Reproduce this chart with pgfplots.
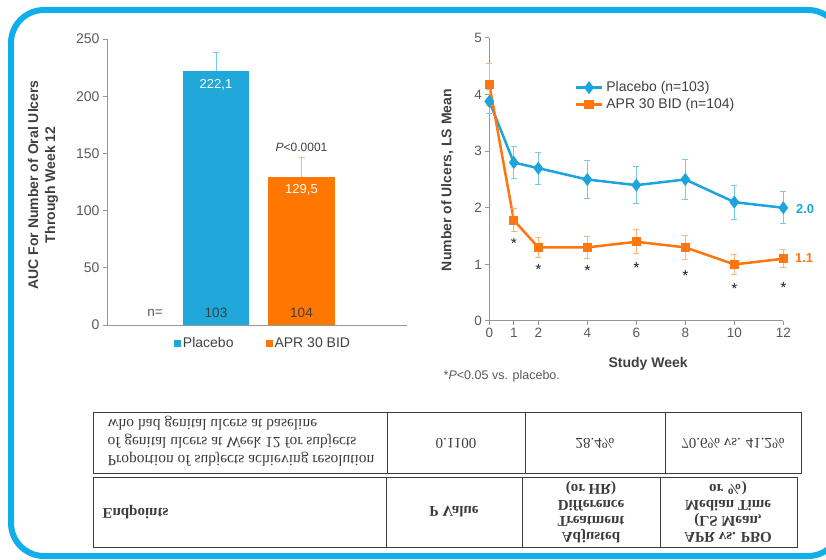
\documentclass[border=0pt]{standalone}
\usepackage{pgfplots}
\pgfplotsset{compat=1.18}
\usepackage{fontspec}
\setmainfont{Liberation Sans}
\newfontfamily\tabfont{Liberation Serif}
\definecolor{pblue}{RGB}{31,168,217}
\definecolor{lblue}{RGB}{28,164,220}
\definecolor{eblue}{RGB}{120,200,232}
\definecolor{porange}{RGB}{255,118,0}
\definecolor{lorange}{RGB}{255,117,15}
\definecolor{eorange}{RGB}{255,178,125}
\definecolor{bordercol}{RGB}{18,174,236}
\definecolor{tickgray}{RGB}{89,89,89}
\definecolor{axisgray}{RGB}{150,150,150}
\definecolor{labelgray}{RGB}{64,64,64}
\definecolor{tabgray}{RGB}{60,60,60}
\begin{document}
\begin{tikzpicture}[x=1pt,y=1pt]
% ---------------- bar chart ----------------
\begin{axis}[
  at={(107pt,234pt)}, anchor=south west, scale only axis,
  width=300pt, height=286pt,
  xmin=0, xmax=300, ymin=0, ymax=250,
  axis x line=bottom, axis y line=left,
  axis line style={draw=axisgray, line width=0.8pt, -},
  xtick=\empty, ytick={0,50,...,250},
  tick style={draw=axisgray, line width=0.8pt}, tick align=outside, major tick length=4pt,
  /pgf/number format/assume math mode=true,
  yticklabel style={font=\fontsize{14}{16}\selectfont, text=tickgray},
  ylabel={AUC For Number of Oral Ulcers\\Through Week 12},
  ylabel style={align=center, font=\bfseries\fontsize{14}{17}\selectfont, text=labelgray,
    at={(axis description cs:-0.213,0.49)}, anchor=center},
  clip=false,
  legend columns=2,
  legend style={at={(axis description cs:0.52,-0.063)}, anchor=center, draw=none, fill=none,
    font=\fontsize{14}{16}\selectfont, text=labelgray,
    /tikz/every even column/.append style={column sep=30pt}},
  legend image code/.code={\fill[#1,draw=none] (0pt,-3.5pt) rectangle (7pt,3.5pt);},
]
\addplot[ybar, bar width=66, bar shift=0pt, fill=pblue, draw=none,
  error bars/.cd, y dir=plus, y explicit, error mark=-,
  error bar style={color=eblue, line width=1pt},
  error mark options={rotate=90, color=eblue, line width=1pt, mark size=3pt}]
  coordinates {(109,222.1) +- (0,16.5)};
\addlegendentry{Placebo}
\addplot[ybar, bar width=67, bar shift=0pt, fill=porange, draw=none,
  error bars/.cd, y dir=plus, y explicit, error mark=-,
  error bar style={color=eorange, line width=1pt},
  error mark options={rotate=90, color=eorange, line width=1pt, mark size=3pt}]
  coordinates {(194.5,129.5) +- (0,16.5)};
\addlegendentry{APR 30 BID}
\node[white, font=\fontsize{13}{15}\selectfont] at (axis cs:109,210) {222,1};
\node[white, font=\fontsize{13}{15}\selectfont] at (axis cs:194.5,118) {129,5};
\node[labelgray, font=\fontsize{13.5}{15}\selectfont] at (axis cs:109,10.5) {103};
\node[labelgray, font=\fontsize{13.5}{15}\selectfont] at (axis cs:194.5,10.5) {104};
\node[tickgray, font=\fontsize{13.5}{15}\selectfont] at (axis cs:48,10.5) {n=};
\node[labelgray, font=\fontsize{12}{14}\selectfont] at (axis cs:194.5,155) {\textit{P}<0.0001};
\end{axis}

% ---------------- line chart ----------------
\begin{axis}[
  at={(489.3pt,238pt)}, anchor=south west, scale only axis,
  width=294pt, height=283pt,
  xmin=0, xmax=12, ymin=0, ymax=5,
  axis x line=bottom, axis y line=left,
  axis line style={draw=axisgray, line width=1pt, -},
  xtick={0,1,2,4,6,8,10,12}, ytick={0,1,...,5},
  tick style={draw=axisgray, line width=1pt}, tick align=outside, major tick length=4pt,
  /pgf/number format/assume math mode=true,
  ticklabel style={font=\fontsize{13.5}{16}\selectfont, text=tickgray},
  ylabel={Number of Ulcers, LS Mean},
  ylabel style={font=\bfseries\fontsize{14}{17}\selectfont, text=labelgray,
    at={(axis description cs:-0.143,0.498)}, anchor=center},
  xlabel={Study Week},
  xlabel style={font=\bfseries\fontsize{14}{17}\selectfont, text=labelgray,
    at={(axis description cs:0.54,-0.152)}, anchor=center},
  clip=false,
  legend cell align=left,
  legend style={at={(axis description cs:0.28,0.86)}, anchor=north west, draw=none, fill=none,
    font=\fontsize{14}{16}\selectfont, text=labelgray, row sep=1pt,
    /tikz/every odd column/.append style={column sep=1pt}},
  legend image code/.code={\draw[#1, mark repeat=2, mark phase=2] plot coordinates {(0pt,0pt) (13pt,0pt) (26pt,0pt)};},
]
\addplot[lblue, line width=2.5pt, mark=diamond*, mark size=4.5pt, mark options={solid},
  error bars/.cd, y dir=both, y explicit, error mark=-,
  error bar style={color=eblue, line width=0.9pt},
  error mark options={rotate=90, color=eblue, line width=0.9pt, mark size=3pt}]
  coordinates {(0,3.88) +- (0,0.21) (1,2.80) +- (0,0.28) (2,2.70) +- (0,0.28) (4,2.50) +- (0,0.33)
    (6,2.40) +- (0,0.33) (8,2.50) +- (0,0.35) (10,2.10) +- (0,0.30) (12,2.00) +- (0,0.28)};
\addlegendentry{Placebo (n=103)}
\addplot[lorange, line width=2.5pt, mark=square*, mark size=3.4pt, mark options={solid},
  error bars/.cd, y dir=both, y explicit, error mark=-,
  error bar style={color=eorange, line width=0.9pt},
  error mark options={rotate=90, color=eorange, line width=0.9pt, mark size=3pt}]
  coordinates {(0,4.18) +- (0,0.37) (1,1.78) +- (0,0.20) (2,1.30) +- (0,0.17) (4,1.30) +- (0,0.20)
    (6,1.40) +- (0,0.21) (8,1.30) +- (0,0.21) (10,1.00) +- (0,0.17) (12,1.10) +- (0,0.16)};
\addlegendentry{APR 30 BID (n=104)}
\addplot[only marks, mark=star, mark size=2.8pt, labelgray, line width=0.9pt, forget plot]
  coordinates {(1,1.42) (2,0.96) (4,0.94) (6,0.99) (8,0.85) (10,0.62) (12,0.64)};
\node[lblue, font=\bfseries\fontsize{13}{15}\selectfont] at (axis cs:12.89,1.98) {2.0};
\node[lorange, font=\bfseries\fontsize{13}{15}\selectfont] at (axis cs:12.85,1.11) {1.1};
\node[anchor=west, tickgray, font=\fontsize{12.5}{14}\selectfont] at (axis description cs:-0.167,-0.194) {*\textit{P}<0.05 vs. placebo.};
\end{axis}

% ---------------- flipped table ----------------
\begin{scope}[tabgray, line width=0.8pt]
\draw (93,147) rectangle (801,86);
\draw (387,147) -- (387,86) (525,147) -- (525,86) (665,147) -- (665,86);
\draw (93,82) rectangle (797,12);
\draw (386,82) -- (386,12) (522,82) -- (522,12) (660,82) -- (660,12);
\end{scope}
\begin{scope}[every node/.style={text=tabgray, yscale=-1}]
\node[align=left, font=\tabfont\fontsize{15.5}{18}\selectfont] at (241,118)
  {Proportion of subjects achieving resolution\\of genital ulcers at Week 12 for subjects\\who had genital ulcers at baseline};
\node[font=\tabfont\fontsize{15}{18}\selectfont] at (456,116) {0.1100};
\node[font=\tabfont\fontsize{15}{18}\selectfont] at (595,116) {28.4\%};
\node[font=\tabfont\fontsize{15}{18}\selectfont] at (733,116) {70.6\% vs. 41.2\%};
\node[anchor=west, font=\tabfont\bfseries\fontsize{15}{16}\selectfont] at (99,47) {Endpoints};
\node[font=\tabfont\bfseries\fontsize{15}{16}\selectfont] at (454,47) {P Value};
\node[align=center, font=\tabfont\bfseries\fontsize{15}{16}\selectfont] at (591,47)
  {Adjusted\\Treatment\\Difference\\(or HR)};
\node[align=center, font=\tabfont\bfseries\fontsize{15}{16}\selectfont] at (728,47)
  {APR vs. PBO\\(LS Mean,\\Median Time\\or \%)};
\end{scope}

% rounded frame
\draw[bordercol, line width=6pt, rounded corners=33pt] (11,549) rectangle (841,3);
\pgfresetboundingbox
\useasboundingbox (0,0) rectangle (826,559);
\end{tikzpicture}
\end{document}
